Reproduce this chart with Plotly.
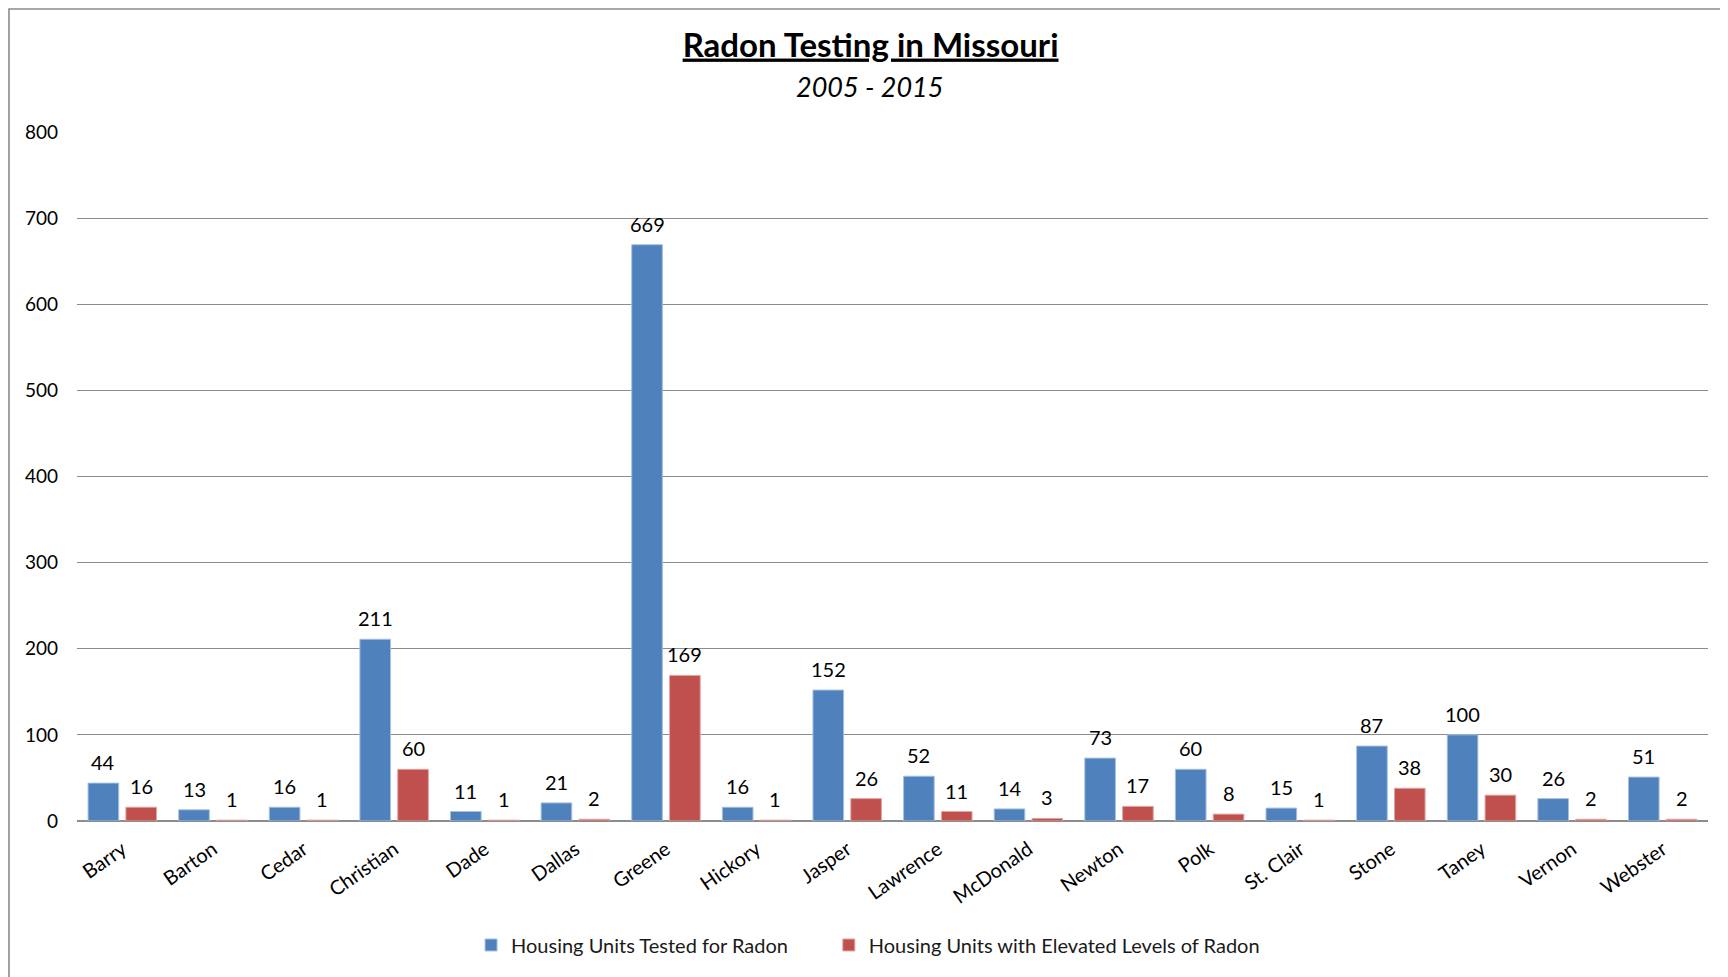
import plotly.graph_objects as go

counties = ["Barry", "Barton", "Cedar", "Christian", "Dade", "Dallas", "Greene", "Hickory",
            "Jasper", "Lawrence", "McDonald", "Newton", "Polk", "St. Clair", "Stone", "Taney",
            "Vernon", "Webster"]
tested = [44, 13, 16, 211, 11, 21, 669, 16, 152, 52, 14, 73, 60, 15, 87, 100, 26, 51]
elevated = [16, 1, 1, 60, 1, 2, 169, 1, 26, 11, 3, 17, 8, 1, 38, 30, 2, 2]
y_ticks = [0, 100, 200, 300, 400, 500, 600, 700, 800]

FONT = "Lato, Calibri, sans-serif"
BLUE = "#4F81BD"
RED = "#C0504D"
NBSP = "\u00a0"

fig = go.Figure()
fig.add_trace(go.Bar(
    x=counties, y=tested, name="Housing Units Tested for Radon" + NBSP * 7,
    marker=dict(color=BLUE, line=dict(color="#A7C0DE", width=1)),
))
fig.add_trace(go.Bar(
    x=counties, y=elevated, name="Housing Units with Elevated Levels of Radon",
    marker=dict(color=RED, line=dict(color="#E0A5A3", width=1)),
))

annotations = []
for series, dx in ((tested, -18.9), (elevated, 18.9)):
    for c, v in zip(counties, series):
        annotations.append(dict(
            x=c, y=v, xref="x", yref="y", text=str(v), showarrow=False,
            xshift=dx, yshift=21, yanchor="middle", xanchor="center",
            font=dict(family=FONT, size=20, color="black"),
        ))
annotations.append(dict(
    x=0.4862, y=1.0652, xref="paper", yref="paper", text="<i>2005 - 2015</i>",
    showarrow=False, xanchor="center", yanchor="middle",
    font=dict(family=FONT, size=27, color="black"),
))

fig.update_layout(
    width=1720, height=969,
    paper_bgcolor="white", plot_bgcolor="white",
    font=dict(family=FONT, size=20, color="black"),
    margin=dict(l=69, r=20, t=123, b=156, autoexpand=False),
    barmode="group", bargap=0.165, bargroupgap=0.19,
    title=dict(
        text="<b><u>Radon Testing in Missouri</u></b>",
        x=0.5015, xanchor="center", y=0.9618, yanchor="middle",
        font=dict(family=FONT, size=33, color="black"),
    ),
    legend=dict(
        orientation="h", x=0.2416, xanchor="left", y=-0.1797, yanchor="middle",
        font=dict(family=FONT, size=20, color="#1a1a1a"),
        traceorder="normal", itemwidth=30,
    ),
    xaxis=dict(
        tickangle=-35, showgrid=False, showline=False, zeroline=False,
        ticks="", ticklabelstandoff=12, automargin=False,
        tickfont=dict(family=FONT, size=20, color="black"),
    ),
    yaxis=dict(
        range=[0, 801], tickvals=y_ticks, showgrid=True, gridcolor="#8C8C8C",
        gridwidth=1.3, zeroline=True, zerolinecolor="#8C8C8C", zerolinewidth=2,
        showline=False, ticks="", ticklabelstandoff=18, automargin=False,
        tickfont=dict(family=FONT, size=19, color="black"),
    ),
    annotations=annotations,
    shapes=[dict(
        type="rect", xref="paper", yref="paper",
        x0=-0.0417, x1=1.2, y0=-0.4, y1=1.1768,
        line=dict(color="#8C8C8C", width=1.6), fillcolor="rgba(0,0,0,0)", layer="below",
    )],
)

fig.write_html("out.html")
